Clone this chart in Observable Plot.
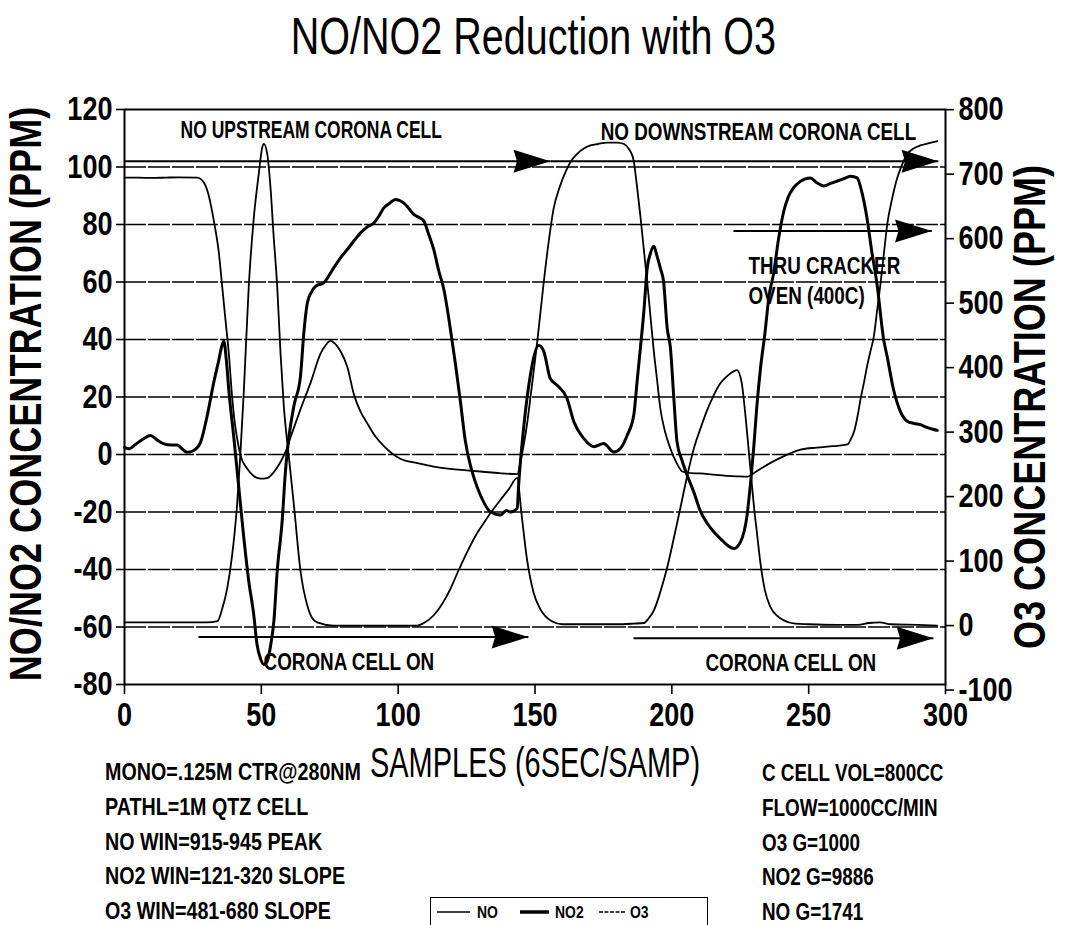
<!DOCTYPE html>
<html>
<head>
<meta charset="utf-8">
<script src="https://cdn.jsdelivr.net/npm/d3@7"></script>
<script src="https://cdn.jsdelivr.net/npm/@observablehq/plot@0.6"></script>
<style>
  html, body { margin: 0; padding: 0; background: #fff; }
  #wrap { position: relative; width: 1067px; height: 925px; overflow: hidden; background: #fff; }
  .F { font-family: "Liberation Sans", Arial, Helvetica, sans-serif; color: #000; }
  #title { position: absolute; left: 0; width: 1067px; top: 10px; text-align: center; font-size: 52px; line-height: 52px;
           transform: scaleX(0.76); transform-origin: 533px 50%; }
  .note { position: absolute; line-height: 22px; font-weight: bold; white-space: nowrap;
          transform: scaleX(0.82); transform-origin: 0 50%; }
  #legend { position: absolute; left: 430px; top: 897px; width: 278px; height: 40px; border: 1.5px solid #000; box-sizing: border-box; }
  #chart { position: absolute; left: 0; top: 0; }
</style>
</head>
<body>
<div id="wrap" class="F">
  <div id="chart"></div>
  <div id="title" class="F">NO/NO2 Reduction with O3</div>
  <div id="legend"></div>
</div>
<script>
// ---------- data ----------
const xTicks = [0, 50, 100, 150, 200, 250, 300];
const leftTicks = [-80, -60, -40, -20, 0, 20, 40, 60, 80, 100, 120];
const rightTicks = [-100, 0, 100, 200, 300, 400, 500, 600, 700, 800];

// NO (PPM, left axis)
const noSamples = [0,5,10,15,20,26.6,29,30.8,32.6,34.5,35.7,36.9,38.1,39.3,40.3,41.2,42.4,44.8,47.2,49.7,52.1,54.6,57,58.8,61.3,64.3,68,71.6,73.5,75.3,77,78.9,81.4,83.8,86.2,88.6,91.5,94.7,100.8,107,113,119,125,131,137,143.5,145,147,149,150.8,153.2,155,156.8,159,161.5,163.5,165.4,168,170.3,173,176.4,180,182.5,184.5,186,187.3,188.5,189.8,191,192.2,193.3,194.6,195.8,197.5,199.5,201.5,204,207,210.4,215,220,224,227.5,231,234.8,240,247,253,259,264.2,265.5,266.6,268,269,270.2,271.4,272.6,273.8,275,276.2,277.5,278.7,280.5,282.3,284,286,288.5,290.8,294,297];
const noValues = [96.3,96.3,96.2,96.3,96.4,96.3,94.6,90,81.5,70,58.4,46.8,35.4,20.3,11,5.4,-0.3,-4.9,-7.5,-8.4,-8.2,-6.1,-2.6,0.8,7.7,15.7,25,35,38,39.5,38.5,36,30.5,21,15,11,6.5,3,-1.5,-3,-4.2,-5,-5.5,-6,-6.5,-6.8,-1,10,25,39,60,74,85.5,93,99,102.5,104.6,106.5,107.5,108,108.5,108.5,108,106,102.5,93,83,71,60,48,37,26,16,8,2,-2.5,-6,-6.5,-6.6,-7,-7.4,-7.6,-7.7,-5.8,-3.6,-1,1.7,2.4,2.9,3.5,5.5,8,14,19.5,25,31,36,41,50,59,70,80,89,96,100.5,104.5,106.5,107.5,108.3,109];

// NO2 (PPM, left axis)
const no2Samples = [0,1.8,4,7,9.5,12,14.4,17,19.3,21,22.9,25.3,27.8,30.2,32.6,34.5,35.5,36.3,37.2,38.1,40,41.8,43.6,45.4,47.2,48.4,49.7,50.9,52.1,53.3,54.6,55.8,57.6,58.8,60,61.9,64.3,65.5,66.8,68.3,69.8,72.8,76.5,79,81.4,84,86.2,88.5,91.1,93,94.7,97,99,102,104,105.7,107.5,109.4,111,113,114.8,116.7,119.1,121,122.8,124.5,126.4,128,130,133.7,137.4,139.5,141,143.5,144,145.9,148.3,151.4,153.2,155.6,158.1,161.7,164.2,167.8,171.5,175.1,178.8,181.2,183.7,186.1,187.3,188.5,189.8,191,192.2,193.4,194.6,195.8,197,198.3,199.5,200.7,201.9,203.7,205.6,208,210.5,213,215.3,218,220.2,222.7,225.1,227.5,228.8,229.9,231,232.4,234,235.5,237.2,239,240.9,242.5,244.5,247,250.6,253,255.5,258,260.4,263,265.3,267.7,269.5,271.3,273,275,277.4,278.7,281,283.5,286,288.5,290.8,293,295.7,297];
const no2Values = [2.5,2,3.5,5.5,6.6,5,3.7,3.3,3.3,2,0.8,1.4,4.3,13.4,25,33,37.5,39.4,33,22.6,5.4,-11.8,-29,-44,-55.5,-65.9,-71,-73,-72,-67,-57.8,-40.6,-23.3,-6,5.4,16.9,27.2,42,52.7,56.5,58.5,59.7,65,68.5,71.3,74.5,77,79,80.5,83,85.7,87.5,88.7,87.5,85.5,83.5,82.5,81.2,77,71.3,64,57.4,43.5,31,18,5,-3.8,-9,-14,-19.9,-21,-19.5,-20,-18.7,-11,9.7,27.6,37.9,35.9,26.4,24.1,19.5,11.4,5.6,2.7,3.8,0.9,2.1,6.7,13.7,25.3,36.9,50,64.8,70,72.4,69,64.8,60,44,36.9,20,4.4,-2,-7.2,-13,-19.9,-24,-26.9,-29.5,-31.5,-32.7,-30.4,-21.1,-9.5,2.1,16,30,42,55,63,75,84.6,89.5,92.8,95,96.2,94.5,93.4,94.3,95.1,96,96.8,96.2,91,82.3,71,59.1,40,34,22.6,15,11.6,10.8,10.4,9.5,8.7,8.4];

// O3 (PPM, right axis)
const o3Samples = [0,10,20,30,34,35.7,37.5,39.3,41.1,42.3,43.6,45.4,47.2,49.1,50.3,50.9,52.1,53.3,54.5,55.8,57,58.2,60,61.9,64.3,66.8,68.5,70.4,76.5,88.7,100,107,109.4,113,116,119.1,122,125.2,128,131.3,134,137.4,140.5,143.5,145,147,149.5,152,156,160,170,180,186,189.8,191.5,193.4,196,198.3,200.7,203.1,205.5,208,210.5,212.9,215.3,217.8,219.5,221.4,223.8,225.5,226.8,228,229,230,231.2,232.4,234,236,238.5,240.9,245,250,260,268,272,276,280,290,297];
const o3Values = [5,5,5,5,7,26,57,108,185,263,363,526,630,702,741,747,733,682,604,526,423,341,264,187,85,31,12,5,0,0,0,0,4,16,33,57,85,114,137,159,176,195,212,229,176,105,51,25,7,2,2,2,3,4,11,23,55,90,135,182,230,274,306,334,357,376,384,391,396,377,330,276,230,185,140,96,55,29,15,8,3,2,1,1,4,5,2,1,0];

// annotations
const annoText = ["NO UPSTREAM CORONA CELL", "NO DOWNSTREAM CORONA CELL", "THRU CRACKER", "OVEN (400C)", "CORONA CELL ON", "CORONA CELL ON"];
const annoX = [20.5, 174, 228, 228, 50.8, 212.3];
const annoY = [112.5, 112, 65.5, 55, -72.5, -72.8];
const arrowStart = [0, 155.6, 222.5, 27, 186];
const arrowEnd = [155.6, 297.4, 295, 147.6, 295.6];
const arrowLevel = [102, 102, 77.7, -63.5, -63.9];

const notesLeft = ["MONO=.125M CTR@280NM", "PATHL=1M QTZ CELL", "NO WIN=915-945 PEAK", "NO2 WIN=121-320 SLOPE", "O3 WIN=481-680 SLOPE"];
const notesRight = ["C CELL VOL=800CC", "FLOW=1000CC/MIN", "O3 G=1000", "NO2 G=9886", "NO G=1741"];
const seriesNames = ["NO", "NO2", "O3"];

// ---------- build ----------
const FONT = '"Liberation Sans", Arial, Helvetica, sans-serif';
const SX = 0.82; // narrow lettering
const SX_SPECIAL = {"NO UPSTREAM CORONA CELL": 0.76, "SAMPLES (6SEC/SAMP)": 0.69};
const o3ToLeft = o => -59.5 + 0.2243 * o;
const leftToO3 = l => (l + 59.5) / 0.2243;

const noData = noSamples.map((s, i) => ({s, v: noValues[i]}));
const no2Data = no2Samples.map((s, i) => ({s, v: no2Values[i]}));
const o3Data = o3Samples.map((s, i) => ({s, v: o3ToLeft(o3Values[i])}));
const arrows = arrowStart.map((a, i) => ({x1: a, x2: arrowEnd[i], y: arrowLevel[i]}));
const annos = annoText.map((t, i) => ({t, x: annoX[i], y: annoY[i]}));

const dart = {
  draw(ctx, size) {
    const r = Math.sqrt(size / Math.PI);
    ctx.moveTo(0, 0);
    ctx.lineTo(-3.2 * r, -r);
    ctx.lineTo(-2.9 * r, 0);
    ctx.lineTo(-3.2 * r, r);
    ctx.closePath();
  }
};

const chart = Plot.plot({
  width: 1067,
  height: 800,
  marginLeft: 124,
  marginRight: 122,
  marginTop: 109,
  marginBottom: 116,
  style: {fontFamily: FONT, background: "transparent", color: "#000"},
  x: {domain: [0, 300]},
  y: {domain: [-80, 120]},
  marks: [
    Plot.ruleY(leftTicks.slice(1, -1), {stroke: "#000", strokeWidth: 1.3, strokeDasharray: "22,2"}),
    Plot.frame({stroke: "#000", strokeWidth: 2}),
    Plot.axisY({ticks: leftTicks, tickFormat: d => `${d}`, tickSize: 8, tickPadding: 4, fontSize: 33, fontWeight: "bold", label: null, strokeWidth: 1.6}),
    Plot.axisY({anchor: "right", ticks: rightTicks.map(o3ToLeft), tickFormat: d => `${Math.round(leftToO3(d) / 100) * 100}`,
      tickSize: 8, tickPadding: 5, fontSize: 33, fontWeight: "bold", label: null, strokeWidth: 1.6}),
    Plot.axisX({ticks: xTicks, tickFormat: d => `${d}`, tickSize: 10, tickPadding: 8, fontSize: 33, fontWeight: "bold", label: null, strokeWidth: 1.6}),
    Plot.line(o3Data, {x: "s", y: "v", stroke: "#000", strokeWidth: 1.8, curve: "monotone-x"}),
    Plot.line(noData, {x: "s", y: "v", stroke: "#000", strokeWidth: 1.8, curve: "monotone-x"}),
    Plot.line(no2Data, {x: "s", y: "v", stroke: "#000", strokeWidth: 3, curve: "monotone-x"}),
    Plot.link(arrows, {x1: "x1", x2: "x2", y1: "y", y2: "y", stroke: "#000", strokeWidth: 2}),
    Plot.dot(arrows, {x: "x2", y: "y", symbol: dart, r: 11.5, fill: "#000", stroke: null}),
    Plot.text(annos, {x: "x", y: "y", text: "t", textAnchor: "start", fontSize: 23, fontWeight: "bold", fill: "#000"}),
    Plot.text(["NO/NO2 CONCENTRATION (PPM)"], {frameAnchor: "left", textAnchor: "middle", rotate: -90, dx: -98, dy: -3, fontSize: 44, fontWeight: "bold", fill: "#000"}),
    Plot.text(["O3 CONCENTRATION (PPM)"], {frameAnchor: "right", textAnchor: "middle", rotate: -90, dx: 85, dy: 10, fontSize: 44, fontWeight: "bold", fill: "#000"}),
    Plot.text(["SAMPLES (6SEC/SAMP)"], {frameAnchor: "bottom", dy: 92, fontSize: 42, fill: "#000"})
  ]
});
document.getElementById("chart").appendChild(chart);

// narrow every SVG text around its anchor point
function condense(root, sx) {
  root.querySelectorAll("text").forEach(t => {
    const k = SX_SPECIAL[t.textContent] ?? sx;
    const bb = t.getBBox();
    const anchor = getComputedStyle(t).textAnchor;
    const ax = anchor === "end" ? bb.x + bb.width : anchor === "middle" ? bb.x + bb.width / 2 : bb.x;
    const ay = bb.y + bb.height / 2;
    const prev = t.getAttribute("transform") || "";
    t.setAttribute("transform", `${prev} translate(${ax},${ay}) scale(${k},1) translate(${-ax},${-ay})`);
  });
}
condense(chart, SX);

// notes
const wrap = document.getElementById("wrap");
function addNotes(list, left, top0, step, size) {
  list.forEach((t, i) => {
    const d = document.createElement("div");
    d.className = "note F";
    d.textContent = t;
    d.style.left = left + "px";
    d.style.top = (top0 + i * step) + "px";
    d.style.fontSize = size + "px";
    wrap.appendChild(d);
  });
}
addNotes(notesLeft, 105, 761, 34.8, 24);
addNotes(notesRight, 762, 762, 34.8, 23);

// legend
const lgNode = d3.select("#legend").append("svg").attr("width", 276).attr("height", 30)
  .style("position", "absolute").style("left", "0px").style("top", "0px");
const sw = [{x: 6, w: 33, sw: 1.5, dash: null}, {x: 89, w: 29, sw: 3.5, dash: null}, {x: 168, w: 26, sw: 1.5, dash: "4,1.5"}];
const tx = [46, 124, 199];
seriesNames.forEach((n, i) => {
  lgNode.append("line").attr("x1", sw[i].x).attr("x2", sw[i].x + sw[i].w).attr("y1", 14).attr("y2", 14)
    .attr("stroke", "#000").attr("stroke-width", sw[i].sw).attr("stroke-dasharray", sw[i].dash);
  lgNode.append("text").attr("x", tx[i]).attr("y", 20).text(n)
    .attr("font-family", FONT).attr("font-size", 17).attr("font-weight", "bold");
});
condense(lgNode.node(), SX);
</script>
</body>
</html>
